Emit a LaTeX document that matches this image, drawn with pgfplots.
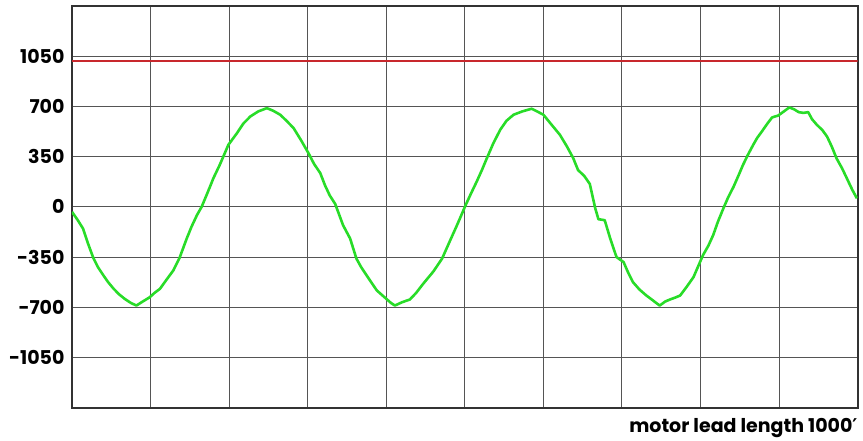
\documentclass[border=0pt]{standalone}
\usepackage{fontspec}
\setmainfont{Poppins}
\newfontfamily\dejavu{DejaVu Sans}
\usepackage{pgfplots}
\pgfplotsset{compat=1.18}
\definecolor{gridc}{RGB}{85,85,85}
\definecolor{framec}{RGB}{50,50,50}
\definecolor{redc}{RGB}{200,40,45}
\definecolor{greenc}{RGB}{40,220,40}
\begin{document}
\begin{tikzpicture}
\begin{axis}[
  name=ax,
  scale only axis,
  width=785.7pt, height=401.7pt,
  xmin=0, xmax=10, ymin=-1400, ymax=1400,
  xtick={1,2,...,9}, xticklabels={},
  ytick={-1050,-700,-350,0,350,700,1050},
  yticklabels={-1050,-700,-350,0,350,700,1050},
  major tick length=0pt,
  grid=major,
  major grid style={line width=1pt, gridc},
  axis line style={line width=2pt, framec},
  yticklabel style={font=\bfseries\fontsize{19}{19}\selectfont, xshift=-4pt},
  clip=true,
]
\addplot[redc, line width=2.5pt] coordinates {(0,1015) (10,1015)};
\addplot[greenc, line width=2.6pt, line join=round] coordinates {
(0,-35) (0.07,-90) (0.14,-151) (0.20,-250) (0.27,-354) (0.33,-420) (0.40,-478)
(0.46,-525) (0.53,-571) (0.60,-610) (0.67,-641) (0.75,-670) (0.82,-688)
(0.90,-660) (0.99,-630) (1.05,-600) (1.12,-571) (1.20,-510) (1.29,-443)
(1.37,-354) (1.46,-221) (1.52,-140) (1.59,-58) (1.65,0) (1.73,105) (1.80,200)
(1.88,292) (1.99,432) (2.10,514) (2.18,580) (2.27,630) (2.37,665) (2.48,688)
(2.56,670) (2.65,642) (2.73,600) (2.82,549) (2.92,460) (3.01,374) (3.08,300)
(3.16,235) (3.22,150) (3.28,80) (3.35,20) (3.45,-128) (3.54,-221) (3.62,-361)
(3.68,-420) (3.75,-478) (3.82,-535) (3.88,-583) (4.00,-641) (4.06,-670) (4.11,-688)
(4.20,-665) (4.30,-646) (4.38,-600) (4.47,-536) (4.60,-450) (4.71,-361) (4.80,-250)
(4.90,-128) (5.01,12) (5.08,95) (5.15,175) (5.22,260) (5.28,339) (5.36,440)
(5.45,537) (5.53,600) (5.62,642) (5.73,665) (5.85,684) (5.92,665) (6.00,642)
(6.10,575) (6.21,502) (6.30,420) (6.38,339) (6.44,257) (6.52,215) (6.59,160)
(6.66,-11) (6.70,-86) (6.78,-93) (6.85,-220) (6.93,-350) (7.02,-385) (7.08,-460)
(7.14,-525) (7.22,-575) (7.31,-618) (7.40,-655) (7.48,-688) (7.55,-660) (7.61,-646)
(7.68,-632) (7.74,-618) (7.82,-560) (7.91,-490) (8.03,-338) (8.10,-270) (8.16,-198)
(8.22,-105) (8.29,-11) (8.35,65) (8.42,140) (8.48,215) (8.54,292) (8.60,360)
(8.67,432) (8.72,480) (8.78,525) (8.85,580) (8.91,623) (8.99,637) (9.06,665)
(9.13,693) (9.19,680) (9.25,660) (9.31,655) (9.37,660) (9.42,610) (9.48,572)
(9.55,535) (9.61,490) (9.67,420) (9.73,339) (9.80,270) (9.86,201) (9.93,120) (9.99,59)
};
\end{axis}
\node[anchor=north east, font=\bfseries\fontsize{19}{19}\selectfont, inner sep=0pt]
  at ([yshift=-10pt]ax.south east) {motor lead length 1000{\dejavu\bfseries ′}};
\path ([shift={(-72pt,-33.3pt)}]ax.south west) rectangle ([shift={(5.3pt,6pt)}]ax.north east);
\end{tikzpicture}
\end{document}
